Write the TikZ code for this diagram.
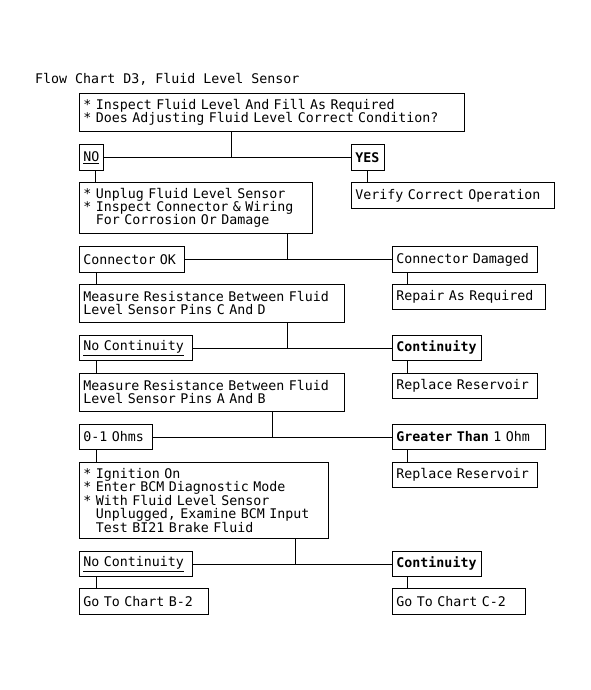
\documentclass[tikz,border=0pt]{standalone}
\usepackage{fontspec}
\newfontfamily\chartfont{DejaVu Sans Mono}
\newcommand\chartsetfont{\chartfont\fontsize{13.3}{13}\selectfont}
\begin{document}
\begin{tikzpicture}[x=1pt,y=-1pt,
  txt/.style={font=\chartsetfont},
  box/.style={txt, draw, line width=0.9pt, anchor=north west, inner xsep=4pt, inner ysep=0pt, align=left},
  link/.style={line width=0.9pt}]
\useasboundingbox (0,0) rectangle (590,690);
\fill[white] (0,0) rectangle (590,690);
% title
\node[txt, anchor=base west, inner sep=0pt] (title) at (35,84) {Flow Chart D3, Fluid Level Sensor};
% boxes
\node[box, text width=377pt, minimum height=38pt] (b1) at (79,93) {* Inspect Fluid Level And Fill As Required\\{}* Does Adjusting Fluid Level Correct Condition?};
\node[box, text width=16pt, minimum height=26pt] (no) at (79,144) {\underline{NO}};
\node[box, text width=25pt, minimum height=26pt] (yes) at (351,144) {\textbf{YES}};
\node[box, text width=225pt, minimum height=51pt] (b2) at (79,182) {* Unplug Fluid Level Sensor\\{}* Inspect Connector \& Wiring\\\phantom{*} For Corrosion Or Damage};
\node[box, text width=195pt, minimum height=26pt] (verify) at (351,182) {Verify Correct Operation};
\node[box, text width=97pt, minimum height=26pt] (ok) at (79,246) {Connector OK};
\node[box, text width=137pt, minimum height=26pt] (dmg) at (392,246) {Connector Damaged};
\node[box, text width=257pt, minimum height=38pt] (mcd) at (79,284) {Measure Resistance Between Fluid\\Level Sensor Pins C And D};
\node[box, text width=145pt, minimum height=25pt] (repair) at (392,284) {Repair As Required};
\node[box, text width=105pt, minimum height=25pt] (nc1) at (79,335) {\underline{No Continuity}};
\node[box, text width=81pt, minimum height=25pt] (c1) at (392,335) {\textbf{Continuity}};
\node[box, text width=257pt, minimum height=38pt] (mab) at (79,373) {Measure Resistance Between Fluid\\Level Sensor Pins A And B};
\node[box, text width=137pt, minimum height=25pt] (rr1) at (392,373) {Replace Reservoir};
\node[box, text width=65pt, minimum height=25pt] (ohm) at (79,424) {0-1 Ohms};
\node[box, text width=145pt, minimum height=25pt] (gt) at (392,424) {\textbf{Greater Than} 1 Ohm};
\node[box, text width=241pt, minimum height=76pt] (ign) at (79,462) {* Ignition On\\{}* Enter BCM Diagnostic Mode\\{}* With Fluid Level Sensor\\\phantom{*} Unplugged, Examine BCM Input\\\phantom{*} Test BI21 Brake Fluid};
\node[box, text width=137pt, minimum height=25pt] (rr2) at (392,462) {Replace Reservoir};
\node[box, text width=105pt, minimum height=25pt] (nc2) at (79,551) {\underline{No Continuity}};
\node[box, text width=81pt, minimum height=25pt] (c2) at (392,551) {\textbf{Continuity}};
\node[box, text width=121pt, minimum height=26pt] (gb) at (79,588) {Go To Chart B-2};
\node[box, text width=125pt, minimum height=26pt] (gc) at (392,588) {Go To Chart C-2};
% junctions
\coordinate (j1) at (231,157);
\coordinate (j2) at (287,259);
\coordinate (j3) at (287,347);
\coordinate (j4) at (272,436);
\coordinate (j5) at (295,563);
% connectors
\draw[link] (b1.south -| j1) -- (j1 |- no.east);
\draw[link] (no.east) -- (yes.west);
\draw[link] ([xshift=16pt]no.south west) -- ([xshift=16pt]b2.north west);
\draw[link] ([xshift=16pt]yes.south west) -- ([xshift=16pt]verify.north west);
\draw[link] (b2.south -| j2) -- (j2 |- ok.east);
\draw[link] (ok.east) -- (dmg.west);
\draw[link] ([xshift=17pt]ok.south west) -- ([xshift=17pt]mcd.north west);
\draw[link] ([xshift=15pt]dmg.south west) -- ([xshift=15pt]repair.north west);
\draw[link] (mcd.south -| j3) -- (j3 |- nc1.east);
\draw[link] (nc1.east) -- (c1.west);
\draw[link] ([xshift=17pt]nc1.south west) -- ([xshift=17pt]mab.north west);
\draw[link] ([xshift=15pt]c1.south west) -- ([xshift=15pt]rr1.north west);
\draw[link] (mab.south -| j4) -- (j4 |- ohm.east);
\draw[link] (ohm.east) -- (gt.west);
\draw[link] ([xshift=17pt]ohm.south west) -- ([xshift=17pt]ign.north west);
\draw[link] ([xshift=15pt]gt.south west) -- ([xshift=15pt]rr2.north west);
\draw[link] (ign.south -| j5) -- (j5 |- nc2.east);
\draw[link] (nc2.east) -- (c2.west);
\draw[link] ([xshift=17pt]nc2.south west) -- ([xshift=17pt]gb.north west);
\draw[link] ([xshift=15pt]c2.south west) -- ([xshift=15pt]gc.north west);
\end{tikzpicture}
\end{document}
